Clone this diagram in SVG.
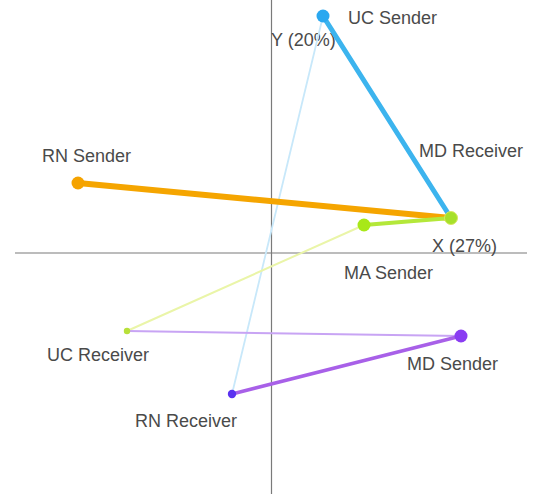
<svg xmlns="http://www.w3.org/2000/svg" width="533" height="496" viewBox="0 0 533 496">
<style>
.axis{stroke:#7a7a7a;stroke-width:1.2;fill:none}
.lbl{font-family:"Liberation Sans",Arial,sans-serif;font-size:18px;fill:#4a4a4a}
.c{stroke-linecap:round;fill:none}
</style>
<rect width="533" height="496" fill="#ffffff"/>
<g id="axes">
<line class="axis" x1="271.5" y1="0" x2="271.5" y2="494"/>
<line class="axis" x1="15" y1="253" x2="527" y2="253"/>
<text class="lbl" x="271" y="46">Y (20%)</text>
<text class="lbl" x="432" y="252">X (27%)</text>
</g>
<g id="connectors">
<line class="c" x1="323" y1="16" x2="232" y2="394" stroke="#c8e8fa" stroke-width="1.8"/>
<line class="c" x1="364" y1="225" x2="127" y2="331" stroke="#eaf5a8" stroke-width="2"/>
<line class="c" x1="127" y1="331" x2="461" y2="336" stroke="#c8a4f4" stroke-width="2"/>
<line class="c" x1="232" y1="394" x2="461" y2="336" stroke="#a860e8" stroke-width="3.5"/>
<line class="c" x1="78" y1="183" x2="451" y2="218" stroke="#f5a500" stroke-width="6"/>
<line class="c" x1="364" y1="225" x2="451" y2="218" stroke="#b4e83a" stroke-width="4"/>
<line class="c" x1="323" y1="16" x2="451" y2="218" stroke="#3cb4ee" stroke-width="5"/>
</g>
<g id="uc-sender"><circle cx="323" cy="16" r="6.5" fill="#2aa8f0"/><text class="lbl" x="348" y="24">UC Sender</text></g>
<g id="md-receiver"><circle cx="451" cy="218" r="6.5" fill="#a6e02a" stroke="#d8e860" stroke-width="1"/><text class="lbl" x="419" y="157">MD Receiver</text></g>
<g id="rn-sender"><circle cx="78" cy="183" r="6.5" fill="#f5a300"/><text class="lbl" x="42" y="162">RN Sender</text></g>
<g id="ma-sender"><circle cx="364" cy="225" r="6.5" fill="#a8e818"/><text class="lbl" x="344" y="279">MA Sender</text></g>
<g id="uc-receiver"><circle cx="127" cy="331" r="3.2" fill="#b8e03a"/><text class="lbl" x="47" y="361">UC Receiver</text></g>
<g id="md-sender"><circle cx="461" cy="336" r="6.5" fill="#8a3cf2"/><text class="lbl" x="407" y="370">MD Sender</text></g>
<g id="rn-receiver"><circle cx="232" cy="394" r="4.2" fill="#5a32f0"/><text class="lbl" x="135" y="427">RN Receiver</text></g>
</svg>
